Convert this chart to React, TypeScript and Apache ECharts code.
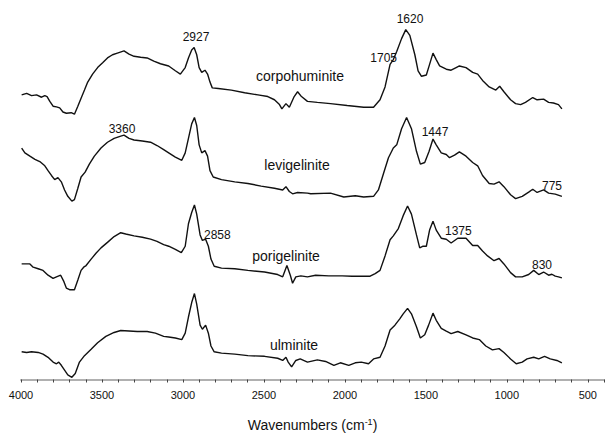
import React, { useEffect, useRef } from "react";
import * as echarts from "echarts";

// Wavenumbers (cm-1) and relative absorbance (offset, arbitrary units)
const corpoWn = [3996, 3965, 3935, 3904, 3873, 3853, 3839, 3822, 3802, 3781, 3761, 3741, 3720, 3690, 3670, 3649, 3629, 3608, 3588, 3558, 3527, 3496, 3466, 3435, 3405, 3364, 3333, 3302, 3261, 3221, 3180, 3139, 3088, 3047, 3016, 2986, 2966, 2946, 2931, 2915, 2900, 2884, 2864, 2848, 2833, 2819, 2782, 2701, 2619, 2537, 2476, 2435, 2404, 2389, 2364, 2343, 2313, 2292, 2268, 2231, 2170, 2089, 1986, 1884, 1823, 1783, 1752, 1721, 1701, 1680, 1650, 1624, 1599, 1568, 1548, 1527, 1497, 1477, 1456, 1436, 1415, 1374, 1344, 1313, 1293, 1252, 1211, 1180, 1150, 1109, 1068, 1044, 1018, 977, 946, 915, 885, 840, 813, 773, 742, 712, 681, 660];
const corpoAbs = [294.7, 296.3, 294, 294.7, 292.3, 294, 293, 288, 283, 282.3, 281.3, 277, 275.7, 276.3, 274.7, 283, 291.3, 299.7, 308, 316.3, 323, 328, 333, 336.3, 338, 340.3, 337, 334.7, 333.7, 333, 329.7, 327, 324.7, 319.7, 316.3, 323, 333, 341.3, 343.7, 336.3, 323, 318, 320.3, 316.3, 308, 302, 301.3, 299.7, 297, 294.7, 293, 289.7, 284.7, 280.3, 285.7, 282, 293, 298, 293, 288, 287, 285.7, 283.7, 282, 282, 289.7, 303, 326.3, 331.3, 339.7, 353, 362.3, 356.3, 336.3, 319.7, 314, 315.3, 326.3, 338, 331.3, 324.7, 321.3, 320.3, 323, 324.7, 323, 318, 316.3, 309.7, 303, 299.7, 303.7, 298, 289.7, 285.7, 284.7, 287, 292, 289.7, 290.3, 287, 286.3, 284.7, 280.3];

const leviWn = [3996, 3976, 3945, 3914, 3884, 3853, 3833, 3812, 3792, 3772, 3751, 3731, 3711, 3686, 3670, 3649, 3629, 3604, 3578, 3547, 3506, 3466, 3425, 3384, 3364, 3333, 3302, 3251, 3200, 3160, 3119, 3088, 3047, 3007, 2986, 2966, 2946, 2929, 2915, 2900, 2884, 2864, 2848, 2833, 2813, 2762, 2680, 2599, 2517, 2435, 2384, 2364, 2343, 2323, 2292, 2231, 2211, 2089, 2007, 1936, 1884, 1823, 1793, 1762, 1731, 1701, 1680, 1650, 1619, 1589, 1558, 1534, 1507, 1480, 1456, 1436, 1405, 1374, 1354, 1323, 1293, 1252, 1211, 1180, 1150, 1109, 1079, 1048, 1018, 977, 946, 905, 865, 840, 813, 773, 742, 701, 660];
const leviAbs = [239.7, 234.7, 231.3, 228, 225.7, 221.3, 216.3, 211.3, 207, 209, 204.7, 196.3, 189.7, 184.7, 186.3, 198, 209.7, 214.7, 223, 231.3, 239.7, 245.7, 249.7, 252, 253, 249.7, 248, 247, 245.7, 242.3, 238, 234.7, 230.3, 227, 234.7, 249.7, 264.7, 271.3, 263, 243, 234.7, 237, 231.3, 216.3, 209.7, 207, 204.7, 203, 200.3, 198, 196.3, 199.7, 194.7, 192.3, 193.7, 193, 192.3, 193, 189, 190.3, 189, 189.7, 196.3, 213, 229.7, 239.7, 243, 259.7, 271.3, 259.7, 236.3, 223, 224.7, 236.3, 249, 243, 234.7, 233, 229.7, 232.3, 235.7, 231.3, 224.7, 221.3, 211.3, 203, 202.3, 204.7, 199.7, 191.3, 187.3, 189.7, 194, 197, 193.7, 196.3, 193, 192, 189.7];

const poriWn = [3996, 3945, 3925, 3894, 3864, 3833, 3802, 3781, 3755, 3735, 3720, 3700, 3670, 3649, 3629, 3613, 3598, 3567, 3537, 3506, 3466, 3425, 3384, 3353, 3302, 3251, 3200, 3160, 3119, 3088, 3047, 3010, 2986, 2966, 2946, 2929, 2915, 2894, 2880, 2860, 2843, 2827, 2807, 2762, 2680, 2599, 2496, 2415, 2384, 2358, 2337, 2323, 2303, 2272, 2231, 2181, 2099, 2017, 1956, 1895, 1844, 1813, 1783, 1752, 1721, 1701, 1670, 1640, 1613, 1589, 1558, 1538, 1517, 1497, 1477, 1456, 1436, 1405, 1374, 1344, 1303, 1252, 1211, 1180, 1150, 1119, 1079, 1048, 1018, 977, 946, 905, 865, 834, 803, 773, 742, 722, 701, 681, 660];
const poriAbs = [119.7, 119.7, 116.3, 114.7, 113, 108, 104.7, 106.3, 108, 101.3, 94.7, 93, 93, 103, 113, 116.3, 118, 124.7, 130.7, 136.3, 142, 148, 152, 150.7, 148.7, 147.3, 145.3, 143, 139.7, 138, 134.7, 131.3, 138, 161.3, 173, 180.7, 171.3, 149.7, 144, 145.3, 138, 124.7, 117.3, 115.3, 114.7, 113, 111.3, 108.7, 106.3, 118, 108, 99.7, 106.3, 107.3, 106.3, 108, 107.3, 107.3, 107, 107, 107, 109.7, 113, 128, 144.7, 148.7, 156.3, 169.7, 179.7, 171.3, 149.7, 136.3, 138, 138, 154.7, 164, 154.7, 146.3, 145.3, 141.3, 146.3, 146.3, 138.7, 138.7, 133, 128, 123, 125.3, 119.7, 110.7, 106.3, 106.3, 108.7, 113, 108.7, 111.3, 108, 109, 107, 106.3, 105.3];

const ulmiWn = [3996, 3965, 3935, 3894, 3864, 3833, 3802, 3781, 3767, 3751, 3731, 3711, 3686, 3665, 3639, 3608, 3567, 3527, 3476, 3425, 3384, 3333, 3282, 3221, 3170, 3119, 3088, 3047, 3007, 2986, 2966, 2946, 2929, 2915, 2894, 2880, 2860, 2843, 2827, 2807, 2762, 2680, 2599, 2496, 2415, 2384, 2364, 2350, 2329, 2303, 2276, 2231, 2170, 2119, 2068, 2028, 1976, 1936, 1899, 1854, 1823, 1783, 1752, 1721, 1691, 1660, 1640, 1613, 1589, 1558, 1534, 1507, 1483, 1456, 1436, 1405, 1374, 1344, 1303, 1252, 1211, 1170, 1130, 1089, 1048, 1018, 977, 942, 905, 875, 834, 803, 767, 732, 691, 660];
const ulmiAbs = [28.7, 28, 28.7, 28, 26.3, 23, 18, 16.3, 18, 14.7, 9.7, 4.7, 2.3, 6.3, 18, 24.7, 31.3, 38, 44.7, 48.7, 50.7, 50.3, 49.7, 49.7, 48, 44.7, 44, 43, 41.3, 48, 64.7, 79.7, 89, 78, 56.3, 52, 56.3, 48, 34.7, 28.7, 27.3, 26.3, 24.7, 24, 22, 19.7, 23, 18, 13, 19.7, 21.3, 18, 20.3, 18.7, 14.7, 17.3, 14.7, 17.3, 18, 16.3, 21.3, 23, 34.7, 51.3, 56.3, 63, 68, 73.7, 68, 54.7, 43, 46.3, 56.3, 68.7, 61.3, 53, 50, 47.5, 49.7, 46.3, 43, 41.3, 34.7, 30.7, 32, 28, 21.3, 16.3, 18, 21.3, 23, 21.3, 24, 21.3, 19.7, 17.3];

const seriesNames = ["corpohuminite", "levigelinite", "porigelinite", "ulminite"];
const tickLabels = [4000, 3500, 3000, 2500, 2000, 1500, 1000, 500];

const FONT = "'Liberation Sans', Arial, sans-serif";

function zip(a: number[], b: number[]) {
  return a.map((x, i) => [x, b[i]]);
}

export default function App() {
  const ref = useRef<HTMLDivElement>(null);
  useEffect(() => {
    document.body.style.margin = "0";
    const chart = echarts.init(ref.current!, null, { renderer: "svg" });
    const all = [
      zip(corpoWn, corpoAbs),
      zip(leviWn, leviAbs),
      zip(poriWn, poriAbs),
      zip(ulmiWn, ulmiAbs),
    ];
    const txt = (text: string, x: number, y: number, size: number, align = "center") => ({
      type: "text",
      x,
      y,
      silent: true,
      style: {
        text,
        fill: "#111",
        font: `${size}px ${FONT}`,
        align,
        verticalAlign: "middle",
        textAlign: align,
        textVerticalAlign: "middle",
      },
    });
    chart.setOption({
      animation: false,
      backgroundColor: "#fff",
      grid: { left: 21, right: -2, top: 0, bottom: 44 },
      xAxis: {
        type: "value",
        inverse: true,
        min: 400,
        max: 4000,
        interval: 100,
        splitLine: { show: false },
        axisLine: { show: true, lineStyle: { color: "#b0b0b0", width: 2 } },
        axisTick: { show: true, length: 3, lineStyle: { color: "#444", width: 1 } },
        axisLabel: {
          color: "#111",
          fontFamily: FONT,
          fontSize: 11,
          margin: 10,
          showMaxLabel: true,
          showMinLabel: true,
          formatter: (v: number) => (tickLabels.indexOf(v) >= 0 ? String(v) : ""),
        },
        name: "{a|Wavenumbers (cm}{s|-1}{a|)}",
        nameLocation: "middle",
        nameGap: 38,
        nameTextStyle: {
          rich: {
            a: { fontFamily: FONT, fontSize: 14, color: "#111" },
            s: { fontFamily: FONT, fontSize: 9, color: "#111", verticalAlign: "top", padding: [0, 0, 6, 0] },
          },
        },
      },
      yAxis: { type: "value", min: 0, max: 393, show: false },
      series: all.map((d, i) => ({
        type: "line",
        name: seriesNames[i],
        data: d,
        showSymbol: false,
        symbol: "none",
        lineStyle: { color: "#111", width: 1.4 },
      })),
      graphic: [
        txt("2927", 196, 37, 12),
        txt("1620", 410, 19, 12),
        txt("1705", 397, 58, 12, "right"),
        txt(seriesNames[0], 300, 76, 14),
        txt("3360", 122, 129, 12),
        txt(seriesNames[1], 297, 165, 14),
        txt("1447", 435, 132, 12),
        txt("775", 552, 186, 12),
        txt("2858", 204, 235, 12, "left"),
        txt(seriesNames[2], 286, 256, 14),
        txt("1375", 445, 231, 12, "left"),
        txt("830", 542, 265, 12),
        txt(seriesNames[3], 294, 345, 14),
      ],
    });
    return () => chart.dispose();
  }, []);
  return (
    <div
      ref={ref}
      style={{ position: "fixed", left: 0, top: 0, width: 607, height: 437 }}
    />
  );
}
